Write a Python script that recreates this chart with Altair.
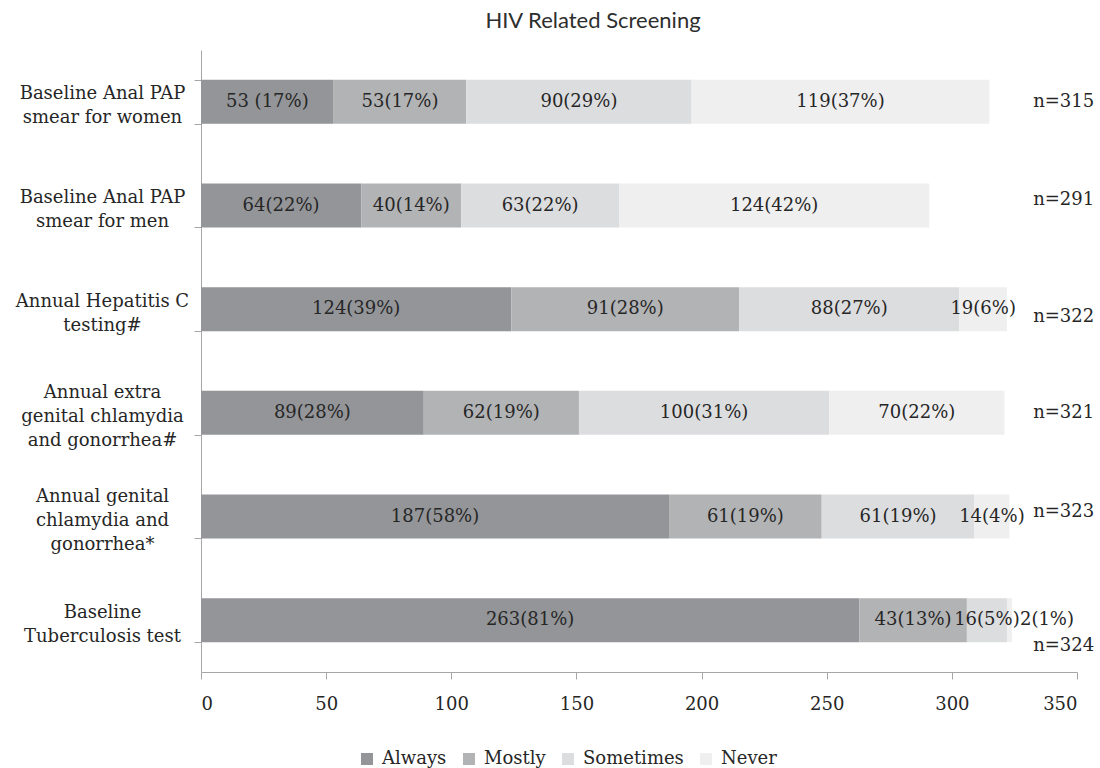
import altair as alt
import pandas as pd

# Screening items, top to bottom ("|" marks a line break in the axis label)
screenings = [
    "Baseline Anal PAP|smear for women",
    "Baseline Anal PAP|smear for men",
    "Annual Hepatitis C|testing#",
    "Annual extra|genital chlamydia|and gonorrhea#",
    "Annual genital|chlamydia and|gonorrhea*",
    "Baseline|Tuberculosis test",
]
responses = ["Always", "Mostly", "Sometimes", "Never"]
colors = ["#939598", "#b2b3b5", "#dcdddf", "#efeff0"]

always = [53, 64, 124, 89, 187, 263]
always_pct = [17, 22, 39, 28, 58, 81]
mostly = [53, 40, 91, 62, 61, 43]
mostly_pct = [17, 14, 28, 19, 19, 13]
sometimes = [90, 63, 88, 100, 61, 16]
sometimes_pct = [29, 22, 27, 31, 19, 5]
never = [119, 124, 19, 70, 14, 2]
never_pct = [37, 42, 6, 22, 4, 1]
totals = [315, 291, 322, 321, 323, 324]

counts = [always, mostly, sometimes, never]
pcts = [always_pct, mostly_pct, sometimes_pct, never_pct]

# band layout of the category axis
PLOT_W, PLOT_H = 876, 622
PAD_INNER, PAD_OUTER = 0.576, 0.288
LINE_H = 24
step = PLOT_H / (len(screenings) - PAD_INNER + 2 * PAD_OUTER)
half_band = step * (1 - PAD_INNER) / 2

# label nudge (in axis units) for the thin last segment, moved clear of its neighbour
label_nudge = {(5, 3): 15.0}
# vertical shifts (px) of the sample-size labels from the bar centre
n_shift = [0, -6, 8, 0, -5, 26]

rows = []
for i, s in enumerate(screenings):
    for j, r in enumerate(responses):
        c, p = counts[j][i], pcts[j][i]
        gap = " " if (i, j) == (0, 0) else ""
        rows.append({
            "screening": s, "response": r, "order": j,
            "count": c, "label": f"{c}{gap}({p}%)",
            "nudge": label_nudge.get((i, j), 0.0),
        })
df = pd.DataFrame(rows)
ndf = pd.DataFrame({"screening": screenings,
                    "n": [f"n={t}" for t in totals],
                    "off": [half_band + d for d in n_shift]})

serif = "DejaVu Serif"
ink = "#262626"

ycat = alt.Y(
    "screening:N", sort=screenings, title=None,
    scale=alt.Scale(paddingInner=PAD_INNER, paddingOuter=PAD_OUTER),
    axis=alt.Axis(
        labelExpr="split(datum.label, '|')", labelAlign="center",
        labelPadding=92, labelLineHeight=LINE_H, labelFontSize=18,
        labelOffset=alt.condition(
            "length(split(datum.value, '|')) == 3",
            alt.value(4 - LINE_H), alt.value(4 - LINE_H / 2)),
        tickSize=7, tickBand="extent", labelLimit=300),
)

bars = alt.Chart(df).mark_bar().encode(
    x=alt.X("count:Q", stack="zero", title=None,
            scale=alt.Scale(domain=[0, 350], nice=False),
            axis=alt.Axis(values=list(range(0, 351, 50)), tickSize=7,
                          labelPadding=16)),
    y=ycat,
    color=alt.Color("response:N", sort=responses,
                    scale=alt.Scale(domain=responses, range=colors),
                    legend=alt.Legend(title=None, orient="none", direction="horizontal",
                                      legendX=157, legendY=700, symbolType="square",
                                      symbolSize=144, symbolStrokeWidth=0,
                                      labelFont=serif, labelFontSize=18,
                                      labelColor=ink, columnPadding=13,
                                      labelOffset=6)),
    order=alt.Order("order:Q"),
)

texts = alt.Chart(df).transform_stack(
    stack="count", groupby=["screening"], as_=["x0", "x1"],
    sort=[alt.SortField("order")],
).transform_calculate(
    mid="(datum.x0 + datum.x1) / 2 + datum.nudge"
).mark_text(font=serif, fontSize=18, color=ink).encode(
    x=alt.X("mid:Q"),
    y=alt.Y("screening:N", sort=screenings),
    text="label:N",
)

nlabels = alt.Chart(ndf).mark_text(font=serif, fontSize=18, color=ink,
                                   align="left").encode(
    x=alt.datum(332.5),
    y=alt.Y("screening:N", sort=screenings),
    yOffset=alt.YOffset("off:Q", scale=None),
    text="n:N",
)

chart = alt.layer(bars, texts, nlabels).properties(
    width=PLOT_W, height=PLOT_H,
    title=alt.Title("HIV Related Screening", font="Lato", fontSize=22,
                    fontWeight="normal", color="#2e2e2e", anchor="middle",
                    frame="group", offset=8, dx=-46),
    autosize=alt.AutoSizeParams(type="none"),
    padding={"left": 201, "top": 50, "right": 23, "bottom": 96},
).configure_view(stroke=None).configure_axis(
    grid=False, domainColor="#a6a6a6", tickColor="#a6a6a6",
    labelFont=serif, labelFontSize=18, labelColor=ink,
)

chart.save("out.html", embed_options={"renderer": "svg", "actions": False})
